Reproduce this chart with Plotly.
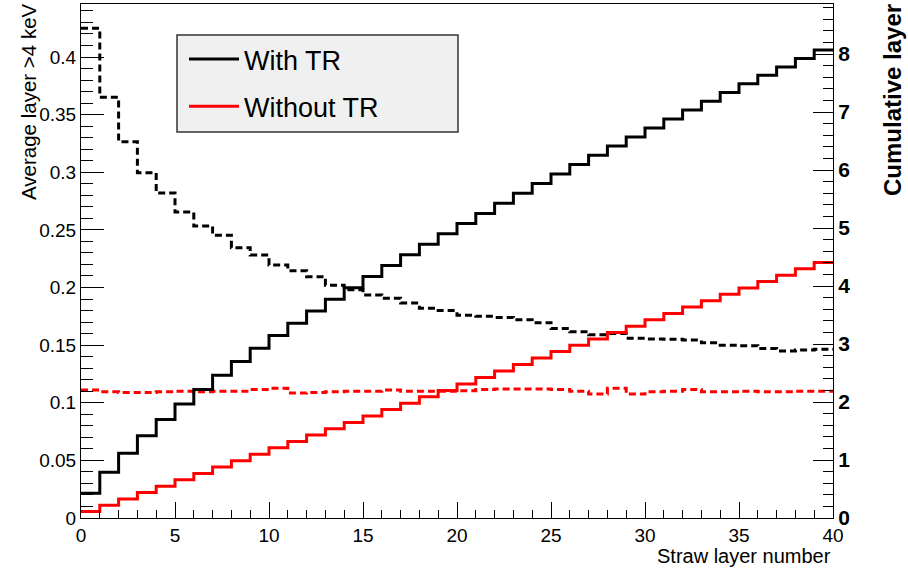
import numpy as np
import plotly.graph_objects as go

# ---- data ----
layer_edges = list(range(0, 41))  # straw layer bin edges 0..40

avg_with_tr = [0.425, 0.365, 0.3265, 0.2996, 0.282, 0.2655, 0.2533, 0.2453, 0.2345, 0.2282,
               0.2195, 0.2146, 0.2094, 0.202, 0.198, 0.1935, 0.1906, 0.1865, 0.182, 0.180,
               0.176, 0.175, 0.174, 0.172, 0.1695, 0.1645, 0.1617, 0.159, 0.160, 0.156,
               0.1553, 0.155, 0.1544, 0.152, 0.150, 0.1495, 0.147, 0.145, 0.1458, 0.1464]

avg_without_tr = [0.111, 0.1095, 0.109, 0.109, 0.1095, 0.110, 0.1095, 0.110, 0.110, 0.1115,
                  0.1125, 0.1085, 0.109, 0.1095, 0.110, 0.110, 0.111, 0.110, 0.110, 0.110,
                  0.1105, 0.1115, 0.112, 0.112, 0.112, 0.1115, 0.110, 0.1075, 0.1125, 0.1075,
                  0.1095, 0.110, 0.1115, 0.1095, 0.1095, 0.110, 0.1095, 0.1095, 0.110, 0.110]

# cumulative layers = running sum of the per-layer averages
cum_with_tr = list(np.cumsum(avg_with_tr))
cum_without_tr = list(np.cumsum(avg_without_tr))

series_names = ["With TR", "Without TR"]
series_colors = ["#000000", "#ff0000"]

FONT = "Liberation Sans, Arial, Helvetica, sans-serif"


def step(vals):
    return list(vals) + [vals[-1]]


fig = go.Figure()

# dashed: average per layer (left axis)
for vals, col in zip([avg_with_tr, avg_without_tr], series_colors):
    fig.add_trace(go.Scatter(
        x=layer_edges, y=step(vals), mode="lines", line_shape="hv",
        line=dict(color=col, width=3, dash="7px,4px"),
        showlegend=False, yaxis="y", hoverinfo="skip"))

# solid: cumulative (right axis)
for vals, col, name in zip([cum_with_tr, cum_without_tr], series_colors, series_names):
    fig.add_trace(go.Scatter(
        x=layer_edges, y=step(vals), mode="lines", line_shape="hv",
        line=dict(color=col, width=3), name=name, legendgroup=name,
        yaxis="y2", hoverinfo="skip"))

L, R, T, B = 81, 75, 4, 50
W, H = 908, 568
pw, ph = W - L - R, H - T - B


def px_x(x):
    return (x - L) / pw


def px_y(y):
    return (H - B - y) / ph


fig.update_layout(
    width=W, height=H,
    margin=dict(l=L, r=R, t=T, b=B, pad=0),
    paper_bgcolor="white", plot_bgcolor="white",
    font=dict(family=FONT, color="black"),
    xaxis=dict(range=[0, 40], showgrid=False, zeroline=False,
               showline=True, linecolor="black", linewidth=1, mirror=True,
               ticks="inside", ticklen=16, tickwidth=1, tickcolor="black",
               tick0=0, dtick=5, tickfont=dict(size=19),
               minor=dict(ticks="inside", ticklen=8, dtick=1, tickcolor="black", tickwidth=1)),
    yaxis=dict(range=[0, 0.446], showgrid=False, zeroline=False,
               showline=True, linecolor="black", linewidth=1,
               ticks="inside", ticklen=23, tickwidth=1, tickcolor="black",
               tick0=0, dtick=0.05, tickfont=dict(size=19), tickformat="~g",
               minor=dict(ticks="inside", ticklen=12, dtick=0.01, tickcolor="black", tickwidth=1)),
    yaxis2=dict(range=[0, 8.862], overlaying="y", side="right", showgrid=False, zeroline=False,
                showline=True, linecolor="black", linewidth=1,
                ticks="inside", ticklen=20, tickwidth=1, tickcolor="black",
                tick0=0, dtick=1, tickfont=dict(size=21, family="Liberation Sans, Arial", weight="bold"),
                minor=dict(ticks="inside", ticklen=10, dtick=0.2, tickcolor="black", tickwidth=1)),
    legend=dict(x=px_x(184), y=px_y(35), xanchor="left", yanchor="top",
                bgcolor="rgba(0,0,0,0)", borderwidth=0, itemwidth=50,
                font=dict(size=27, family=FONT),
                traceorder="grouped", tracegroupgap=9),
    shapes=[dict(type="rect", xref="paper", yref="paper",
                 x0=px_x(177), x1=px_x(458), y0=px_y(132), y1=px_y(35),
                 fillcolor="#f0f0f0", line=dict(color="#333333", width=1.5), layer="below")],
    annotations=[
        dict(text="Average layer >4 keV", xref="paper", yref="paper",
             x=px_x(28), y=px_y(102), xanchor="center", yanchor="middle",
             textangle=-90, showarrow=False, font=dict(size=20.5, family=FONT)),
        dict(text="<b>Cumulative layer</b>", xref="paper", yref="paper",
             x=px_x(892), y=px_y(100), xanchor="center", yanchor="middle",
             textangle=-90, showarrow=False, font=dict(size=24, family=FONT)),
        dict(text="Straw layer number", xref="paper", yref="paper",
             x=1.0, y=px_y(556), xanchor="right", yanchor="middle",
             showarrow=False, font=dict(size=20, family=FONT)),
    ],
)

fig.write_html("out.html", config={"displayModeBar": False},
               post_script="document.body.style.margin='0';document.body.style.padding='0';")
